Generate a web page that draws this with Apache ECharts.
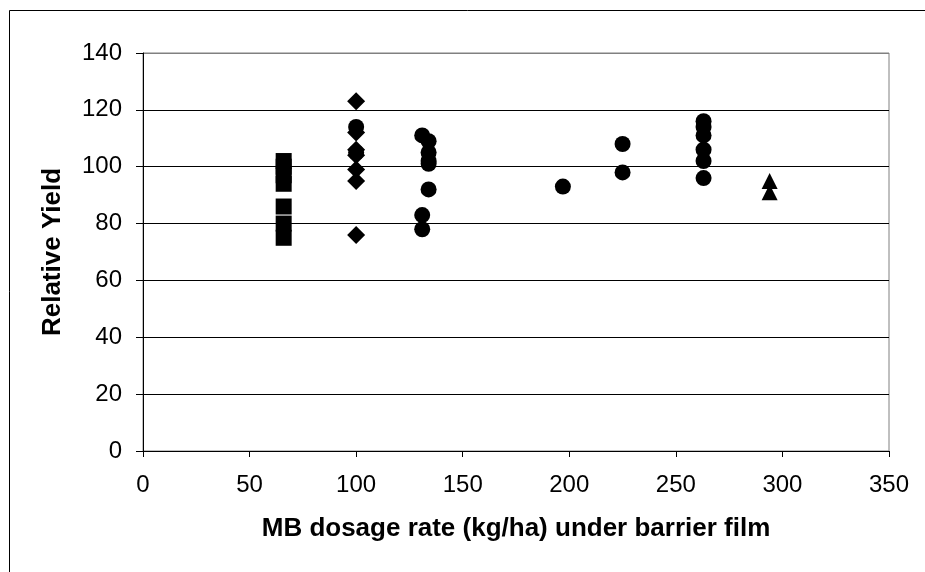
<!DOCTYPE html>
<html>
<head>
<meta charset="utf-8">
<script src="https://cdn.jsdelivr.net/npm/echarts@6/dist/echarts.min.js"></script>
<style>
  html, body { margin: 0; padding: 0; background: #fff; }
  #chart { width: 925px; height: 572px; }
</style>
</head>
<body>
<div id="chart"></div>
<script>
// MB dosage (kg/ha) and relative yield
var squareX = [66, 66, 66, 66, 66, 66, 66];
var squareY = [102, 100, 97, 94, 86, 80, 75];
var diamondX = [100, 100, 100, 100, 100, 100, 100];
var diamondY = [123, 112, 106, 104, 99, 95, 76];
var circleX = [100, 100, 131, 131, 131, 134, 134, 134, 134, 134, 197, 225, 225, 263, 263, 263, 263, 263, 263];
var circleY = [114, 105, 111, 83, 78, 109, 105, 102, 101, 92, 93, 108, 98, 116, 114, 111, 106, 102, 96];
var triangleX = [294, 294];
var triangleY = [95, 91];
var yTicks = [0, 20, 40, 60, 80, 100, 120, 140];

function pairs(xs, ys) {
    return xs.map(function (x, i) { return [x, ys[i]]; });
}

var chart = echarts.init(document.getElementById('chart'));
var font = 'Liberation Sans, Arial, sans-serif';

// top gridline doubles as the grey plot border
var gridColors = yTicks.map(function (v, i) {
    return i === yTicks.length - 1 ? '#808080' : '#000';
});

function scatter(data, symbol, size) {
    return {
        type: 'scatter',
        symbol: symbol,
        symbolSize: size,
        data: data,
        itemStyle: { color: '#000', opacity: 1 },
        emphasis: { disabled: true }
    };
}

var option = {
    animation: false,
    backgroundColor: '#fff',
    graphic: [{
        type: 'rect',
        shape: { x: 9.5, y: 10.5, width: 1000, height: 1000 },
        style: { fill: 'none', stroke: '#000', lineWidth: 1 },
        silent: true
    }],
    grid: {
        left: 143,
        right: 36,
        top: 53,
        bottom: 121,
        show: true,
        borderColor: '#808080',
        borderWidth: 1
    },
    xAxis: {
        type: 'value',
        min: 0,
        max: 350,
        interval: 50,
        name: 'MB dosage rate (kg/ha) under barrier film',
        nameLocation: 'middle',
        nameGap: 65,
        nameTextStyle: { fontFamily: font, fontSize: 26, fontWeight: 'bold', color: '#000' },
        axisLine: { show: true, onZero: false, lineStyle: { color: '#000', width: 1 } },
        axisTick: { show: true, inside: false, length: 6, lineStyle: { color: '#000' } },
        axisLabel: { fontFamily: font, fontSize: 24, color: '#000', margin: 22 },
        splitLine: { show: false }
    },
    yAxis: {
        type: 'value',
        min: 0,
        max: 140,
        interval: 20,
        name: 'Relative Yield',
        nameLocation: 'middle',
        nameGap: 77,
        nameTextStyle: { fontFamily: font, fontSize: 26, fontWeight: 'bold', color: '#000' },
        axisLine: { show: true, onZero: false, lineStyle: { color: '#000', width: 1 } },
        axisTick: { show: true, inside: false, length: 7, lineStyle: { color: '#000' } },
        axisLabel: { fontFamily: font, fontSize: 24, color: '#000', margin: 21 },
        splitLine: { show: true, lineStyle: { color: gridColors, width: 1 } }
    },
    series: [
        scatter(pairs(squareX, squareY), 'rect', 16),
        scatter(pairs(diamondX, diamondY), 'diamond', 18),
        scatter(pairs(circleX, circleY), 'circle', 16),
        scatter(pairs(triangleX, triangleY), 'triangle', 16)
    ]
};

chart.setOption(option);
</script>
</body>
</html>
